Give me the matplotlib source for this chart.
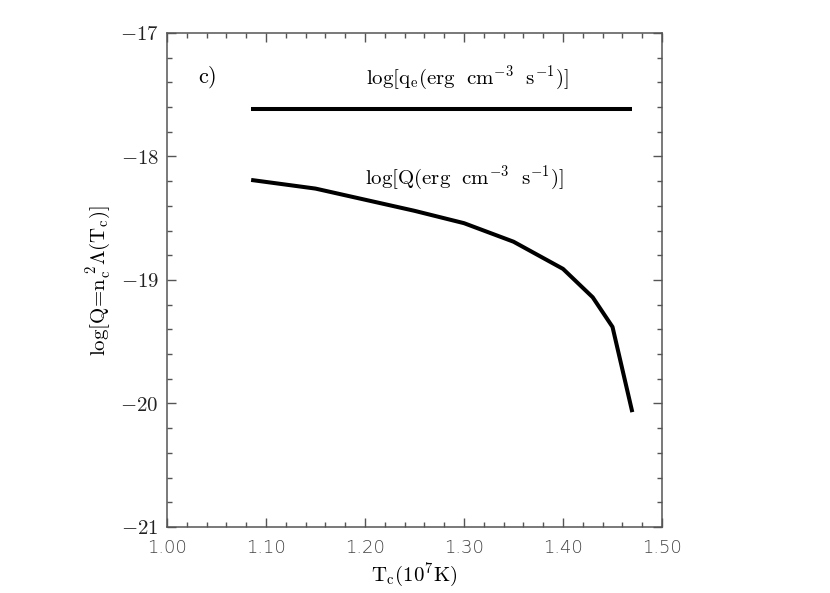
import numpy as np
import matplotlib
matplotlib.use('Agg')
import matplotlib.pyplot as plt
from matplotlib.ticker import MultipleLocator, FormatStrFormatter

plt.rcParams['mathtext.fontset'] = 'cm'
plt.rcParams['font.family'] = 'DejaVu Serif'

# data
qe_x = [1.085, 1.47]
qe_y = [-17.615, -17.615]

T_c = [1.085, 1.15, 1.20, 1.25, 1.30, 1.35, 1.40, 1.43, 1.45, 1.47]
logQ = [-18.19, -18.26, -18.35, -18.44, -18.54, -18.69, -18.91, -19.14, -19.38, -20.07]

gray = '#555555'

fig = plt.figure(figsize=(8.3, 5.93), dpi=100)
ax = fig.add_axes([0.2012, 0.1113, 0.5964, 0.8331])

ax.plot(qe_x, qe_y, color='black', lw=2.9, solid_capstyle='butt')
ax.plot(T_c, logQ, color='black', lw=2.9, solid_capstyle='butt')

ax.set_xlim(1.0, 1.5)
ax.set_ylim(-21, -17)
ax.xaxis.set_major_locator(MultipleLocator(0.1))
ax.xaxis.set_minor_locator(MultipleLocator(0.02))
ax.yaxis.set_major_locator(MultipleLocator(1))
ax.yaxis.set_minor_locator(MultipleLocator(0.2))
ax.xaxis.set_major_formatter(FormatStrFormatter('%.2f'))
ax.set_yticks([-21, -20, -19, -18, -17])
ax.set_yticklabels([r'$-21$', r'$-20$', r'$-19$', r'$-18$', r'$-17$'], fontsize=15)

ax.tick_params(which='both', direction='in', top=True, right=True, color=gray, width=1)
ax.tick_params(which='major', length=6.8)
ax.tick_params(which='minor', length=3.3)
ax.tick_params(axis='x', which='major', pad=9, labelsize=13, labelcolor='#444444')
ax.tick_params(axis='y', which='major', pad=6, labelcolor='#222222')
for lab in ax.get_xticklabels():
    lab.set_family('DejaVu Sans')
    lab.set_fontweight('light')
for s in ax.spines.values():
    s.set_color(gray)
    s.set_linewidth(1.1)

ax.set_xlabel(r'$\mathrm{T_c(10^7K)}$', fontsize=15, labelpad=2)
ax.set_ylabel(r'$\mathrm{log[Q\!=\!n_c^{\ 2}\Lambda(T_c)]}$', fontsize=15, labelpad=4)

ax.text(1.041, -17.36, r'$\mathrm{c)}$', fontsize=16, va='center', ha='center')
ax.text(1.303, -17.36, r'$\mathrm{log[q_e(erg\ \ cm^{-3}\ \ s^{-1})]}$', fontsize=15,
        ha='center', va='center')
ax.text(1.30, -18.17, r'$\mathrm{log[Q(erg\ \ cm^{-3}\ \ s^{-1})]}$', fontsize=15,
        ha='center', va='center')

fig.savefig('out.png', dpi=100, facecolor='white')
